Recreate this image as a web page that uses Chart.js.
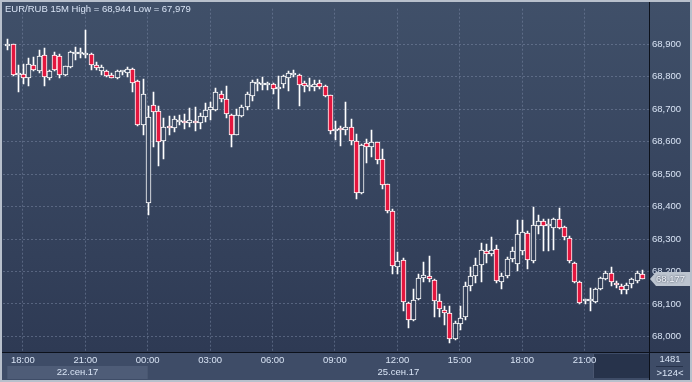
<!DOCTYPE html>
<html>
<head>
<meta charset="utf-8">
<style>
  html, body { margin: 0; padding: 0; background: #36445e; overflow: hidden; }
  canvas { display: block; }
</style>
<script src="https://cdn.jsdelivr.net/npm/chart.js@4/dist/chart.umd.min.js"></script>
</head>
<body>
<canvas id="chart" width="692" height="382"></canvas>
<script>
// EUR/RUB 15M candles (oldest first)
const open = [
  68895, 68900, 68806, 68809, 68797, 68837, 68817, 68868, 68795, 68868,
  68865, 68805, 68830, 68871, 68871, 68868, 68870, 68837, 68819, 68819,
  68807, 68795, 68814, 68812, 68825, 68787, 68653, 68411, 68713, 68694,
  68603, 68649, 68642, 68662, 68664, 68659, 68665, 68658, 68676, 68698,
  68699, 68748, 68733, 68681, 68622, 68678, 68706, 68741, 68777, 68775,
  68776, 68779, 68761, 68779, 68797, 68805, 68807, 68780, 68770, 68768,
  68780, 68771, 68743, 68633, 68643, 68635, 68645, 68603, 68441, 68595,
  68583, 68600, 68546, 68471, 68388, 68214, 68234, 68103, 68052, 68115,
  68179, 68185, 68174, 68109, 68082, 68073, 67992, 68039, 68059, 68155,
  68185, 68221, 68264, 68253, 68270, 68168, 68186, 68239, 68222, 68262,
  68319, 68231, 68340, 68355, 68339, 68334, 68362, 68337, 68304, 68225,
  68167, 68110, 68110, 68107, 68146, 68177, 68195, 68165, 68156, 68143,
  68162, 68171, 68192
];
const high = [
  68916, 68902, 68837, 68840, 68859, 68862, 68883, 68889, 68822, 68878,
  68870, 68834, 68880, 68893, 68890, 68944, 68873, 68845, 68835, 68822,
  68812, 68820, 68819, 68829, 68827, 68790, 68792, 68711, 68752, 68711,
  68674, 68678, 68679, 68683, 68686, 68704, 68708, 68689, 68718, 68723,
  68765, 68755, 68772, 68684, 68701, 68713, 68752, 68789, 68792, 68799,
  68785, 68781, 68802, 68807, 68817, 68822, 68809, 68787, 68797, 68789,
  68789, 68774, 68744, 68665, 68648, 68721, 68671, 68625, 68593, 68607,
  68635, 68600, 68577, 68471, 68392, 68259, 68241, 68107, 68147, 68191,
  68228, 68249, 68176, 68130, 68095, 68095, 68046, 68095, 68168, 68213,
  68243, 68289, 68284, 68307, 68282, 68196, 68246, 68277, 68358, 68358,
  68325, 68398, 68374, 68362, 68362, 68365, 68395, 68340, 68310, 68228,
  68171, 68116, 68149, 68148, 68183, 68201, 68213, 68171, 68162, 68165,
  68180, 68201, 68204
];
const low = [
  68883, 68804, 68752, 68777, 68772, 68818, 68813, 68772, 68789, 68817,
  68797, 68804, 68827, 68852, 68858, 68859, 68820, 68822, 68807, 68800,
  68795, 68793, 68807, 68799, 68752, 68647, 68620, 68375, 68583, 68524,
  68547, 68620, 68631, 68652, 68638, 68645, 68632, 68640, 68661, 68668,
  68694, 68721, 68674, 68585, 68620, 68676, 68698, 68726, 68755, 68758,
  68758, 68748, 68701, 68765, 68755, 68799, 68711, 68752, 68755, 68756,
  68762, 68738, 68625, 68605, 68587, 68622, 68590, 68425, 68438, 68534,
  68552, 68532, 68453, 68381, 68193, 68193, 68077, 68026, 68049, 68112,
  68168, 68168, 68059, 68059, 68034, 67979, 67989, 68019, 68052, 68140,
  68165, 68168, 68226, 68249, 68165, 68147, 68181, 68229, 68201, 68250,
  68207, 68225, 68316, 68262, 68262, 68265, 68331, 68298, 68225, 68165,
  68101, 68101, 68077, 68104, 68143, 68174, 68156, 68150, 68131, 68131,
  68150, 68165, 68177
];
const close = [
  68897, 68806, 68808, 68797, 68839, 68822, 68865, 68799, 68819, 68822,
  68805, 68832, 68878, 68877, 68875, 68873, 68837, 68827, 68831, 68802,
  68796, 68817, 68815, 68825, 68782, 68653, 68748, 68676, 68691, 68600,
  68645, 68642, 68671, 68665, 68658, 68667, 68659, 68679, 68698, 68706,
  68752, 68731, 68684, 68622, 68681, 68708, 68746, 68785, 68782, 68780,
  68779, 68761, 68770, 68804, 68812, 68809, 68775, 68773, 68774, 68777,
  68770, 68741, 68633, 68640, 68636, 68645, 68603, 68441, 68590, 68585,
  68600, 68544, 68468, 68388, 68218, 68231, 68105, 68052, 68112, 68181,
  68189, 68176, 68108, 68085, 68073, 67991, 68042, 68056, 68155, 68186,
  68221, 68267, 68255, 68267, 68171, 68186, 68239, 68264, 68316, 68322,
  68234, 68343, 68355, 68340, 68340, 68362, 68334, 68307, 68231, 68167,
  68104, 68111, 68113, 68146, 68180, 68195, 68168, 68159, 68143, 68159,
  68177, 68195, 68177
];

// time axis: bar index of each label
const timeTickIdx = [3, 15, 27, 39, 51, 63, 75, 87, 99, 111];
const timeLabels = ['18:00', '21:00', '00:00', '03:00', '06:00', '09:00', '12:00', '15:00', '18:00', '21:00'];
const dayStartIdx = [0, 27];
const dayLabels = ['22.сен.17', '25.сен.17'];

const priceTicks = [68000, 68100, 68200, 68300, 68400, 68500, 68600, 68700, 68800, 68900];
const lastPrice = 68177;
const title = 'EUR/RUB 15M High = 68,944 Low = 67,979';
const barCount = '1481';
const visibleBars = '>124<';

const FONT = "'Liberation Sans', Arial, sans-serif";
const TXT = '#d8e3f4';

const canvas = document.getElementById('chart');
const grad = canvas.getContext('2d').createLinearGradient(0, 0, 0, 352);
grad.addColorStop(0, '#405069');
grad.addColorStop(0.5, '#37455f');
grad.addColorStop(1, '#2e3a54');

const idx = open.map((_, i) => i);
const fmt = v => v.toLocaleString('en-US');

// snap candle elements to whole pixels so wicks and borders stay crisp
const snapPlugin = {
  id: 'snap',
  beforeDatasetsDraw(chart) {
    chart.data.datasets.forEach((ds, d) => {
      chart.getDatasetMeta(d).data.forEach(el => {
        el.x = Math.round(el.x) + 0.5;
        el.y = Math.round(el.y);
        el.base = Math.round(el.base);
      });
    });
  }
};

const framePlugin = {
  id: 'frame',
  beforeDraw(chart) {
    const ctx = chart.ctx, a = chart.chartArea, xs = chart.scales.x;
    ctx.save();
    ctx.fillStyle = grad;
    ctx.fillRect(0, 0, 692, 382);
    ctx.fillStyle = '#3e4c67';
    ctx.fillRect(0, a.bottom, 692, 382 - a.bottom);
    // first day band
    const x0 = xs.getPixelForValue(dayStartIdx[0]);
    const x1 = xs.getPixelForValue(dayStartIdx[1]);
    ctx.fillStyle = '#4e5c77';
    ctx.fillRect(x0, 366, x1 - x0, 13);
    // scroller
    ctx.fillStyle = '#27334b';
    ctx.fillRect(593, 354, a.right - 593, 24);
    ctx.fillStyle = '#4a5670';
    ctx.fillRect(593, 354, 1, 24);
    ctx.restore();
  },
  afterDraw(chart) {
    const ctx = chart.ctx, a = chart.chartArea, xs = chart.scales.x, ys = chart.scales.y;
    ctx.save();
    // separators
    ctx.strokeStyle = '#0c111b';
    ctx.lineWidth = 1;
    ctx.beginPath();
    ctx.moveTo(Math.round(a.right) + 0.5, 0);
    ctx.lineTo(Math.round(a.right) + 0.5, 382);
    ctx.moveTo(0, Math.round(a.bottom) + 0.5);
    ctx.lineTo(692, Math.round(a.bottom) + 0.5);
    ctx.stroke();

    ctx.font = '9.5px ' + FONT;
    ctx.fillStyle = TXT;
    ctx.textBaseline = 'middle';
    // title
    ctx.textAlign = 'left';
    ctx.fillText(title, 5, 9);
    // day labels
    ctx.textAlign = 'center';
    const d0 = xs.getPixelForValue(dayStartIdx[0]);
    const d1 = xs.getPixelForValue(dayStartIdx[1]);
    ctx.fillText(dayLabels[0], (d0 + d1) / 2, 372.5);
    ctx.fillText(dayLabels[1], (d1 + a.right) / 2, 372.5);
    // bar counters
    ctx.fillText(barCount, 670, 359.5);
    ctx.fillText(visibleBars, 670, 373.5);
    ctx.fillStyle = '#26324a';
    ctx.fillRect(656, 366, 27, 1);

    // last price tag
    const py = Math.round(ys.getPixelForValue(lastPrice));
    ctx.fillStyle = '#bcc4cf';
    ctx.beginPath();
    ctx.moveTo(650, py);
    ctx.lineTo(656, py - 7);
    ctx.lineTo(690, py - 7);
    ctx.lineTo(690, py + 7);
    ctx.lineTo(656, py + 7);
    ctx.closePath();
    ctx.fill();
    ctx.shadowColor = '#1c2638';
    ctx.shadowBlur = 2;
    ctx.fillStyle = '#f4f7fd';
    ctx.textAlign = 'left';
    ctx.fillText(fmt(lastPrice), 656, py + 0.5);
    ctx.shadowBlur = 0;

    // outer frame
    ctx.fillStyle = '#b8c0cc';
    ctx.fillRect(0, 0, 692, 2);
    ctx.fillRect(0, 0, 2, 382);
    ctx.fillRect(0, 380, 692, 2);
    ctx.fillRect(690, 0, 2, 382);
    ctx.restore();
  }
};

new Chart(canvas, {
  type: 'bar',
  data: {
    datasets: [
      {
        label: 'wick',
        data: idx.map(i => ({ x: i, y: [low[i], high[i]] })),
        backgroundColor: '#ffffff',
        borderWidth: 0,
        barThickness: 1,
        grouped: false,
        order: 2
      },
      {
        label: 'body',
        data: idx.map(i => ({ x: i, y: [open[i], close[i]] })),
        backgroundColor: idx.map(i => close[i] < open[i] ? '#e3163e' : grad),
        borderColor: '#ffffff',
        borderWidth: 1,
        borderSkipped: false,
        barThickness: 5,
        minBarLength: 2,
        grouped: false,
        order: 1
      }
    ]
  },
  options: {
    responsive: false,
    animation: false,
    events: [],
    layout: { padding: { left: 3, top: 3, right: 0, bottom: 0 } },
    plugins: { legend: { display: false }, tooltip: { enabled: false } },
    scales: {
      x: {
        type: 'linear',
        offset: false,
        min: -0.83,
        max: 123.4,
        afterBuildTicks: s => { s.ticks = timeTickIdx.map(v => ({ value: v })); },
        afterFit: s => { s.height = 30; },
        ticks: {
          autoSkip: false,
          maxRotation: 0,
          padding: 3,
          color: TXT,
          font: { family: FONT, size: 9.5 },
          callback: v => timeLabels[timeTickIdx.indexOf(v)]
        },
        grid: { offset: false, color: 'rgba(125,140,168,0.5)', drawTicks: false },
        border: { display: false, dash: [2, 2] }
      },
      y: {
        position: 'right',
        min: 67952,
        max: 69010,
        afterBuildTicks: s => { s.ticks = priceTicks.map(v => ({ value: v })); },
        afterFit: s => { s.width = 43; },
        ticks: {
          padding: 3,
          color: TXT,
          font: { family: FONT, size: 9.5 },
          callback: v => fmt(v)
        },
        grid: { color: 'rgba(125,140,168,0.5)', drawTicks: false },
        border: { display: false, dash: [2, 2] }
      }
    }
  },
  plugins: [snapPlugin, framePlugin]
});
</script>
</body>
</html>
